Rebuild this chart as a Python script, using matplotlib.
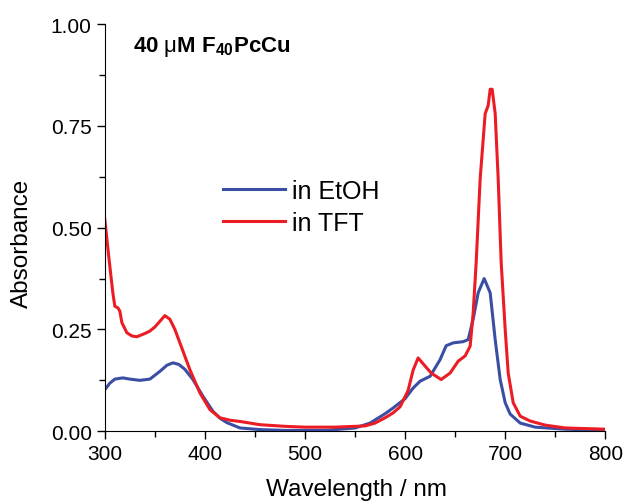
import matplotlib.pyplot as plt
from matplotlib.ticker import MultipleLocator

plt.rcParams['font.family'] = ['Liberation Sans', 'DejaVu Sans']
plt.rcParams['mathtext.fontset'] = 'custom'
plt.rcParams['mathtext.rm'] = 'Liberation Sans'
plt.rcParams['mathtext.bf'] = 'Liberation Sans:bold'
plt.rcParams['mathtext.it'] = 'Liberation Sans:italic'

# EtOH spectrum (blue)
wl_etoh = [300, 305, 310, 318, 325, 335, 345, 355, 362, 368, 374, 380, 388, 398,
           408, 415, 422, 435, 455, 480, 520, 550, 565, 580, 588, 600, 608, 615,
           625, 635, 641, 648, 658, 663, 668, 673, 679, 685, 690, 695, 700, 705,
           715, 730, 760, 800]
abs_etoh = [0.102, 0.118, 0.128, 0.131, 0.128, 0.125, 0.128, 0.147, 0.162, 0.168,
            0.164, 0.152, 0.127, 0.086, 0.049, 0.032, 0.021, 0.008, 0.004, 0.002,
            0.002, 0.008, 0.020, 0.043, 0.057, 0.080, 0.106, 0.123, 0.135, 0.176,
            0.210, 0.217, 0.220, 0.225, 0.275, 0.340, 0.375, 0.340, 0.225, 0.127,
            0.070, 0.042, 0.020, 0.010, 0.005, 0.002]

# TFT spectrum (red)
wl_tft = [300, 303, 305, 308, 310, 313, 315, 317, 322, 327, 332, 340, 345, 350,
          355, 360, 365, 370, 375, 385, 395, 405, 415, 425, 435, 455, 480, 500,
          530, 560, 570, 580, 588, 595, 603, 608, 613, 620, 626, 636, 645, 653,
          660, 665, 668, 671, 675, 680, 683, 685, 687, 690, 693, 696, 700, 703,
          708, 715, 725, 740, 760, 800]
abs_tft = [0.52, 0.45, 0.405, 0.34, 0.307, 0.303, 0.295, 0.267, 0.242, 0.234,
           0.232, 0.240, 0.246, 0.256, 0.270, 0.284, 0.275, 0.250, 0.217, 0.151,
           0.094, 0.053, 0.033, 0.027, 0.024, 0.016, 0.012, 0.010, 0.010, 0.013,
           0.020, 0.033, 0.045, 0.060, 0.100, 0.150, 0.180, 0.160, 0.143, 0.127,
           0.143, 0.172, 0.185, 0.209, 0.290, 0.414, 0.620, 0.780, 0.800, 0.840,
           0.840, 0.780, 0.620, 0.414, 0.250, 0.143, 0.070, 0.037, 0.025, 0.015,
           0.008, 0.005]

fig = plt.figure(figsize=(6.24, 5.02), dpi=100)
ax = fig.add_axes([0.168, 0.139, 0.802, 0.811])

ax.plot(wl_etoh, abs_etoh, color='#3a4ea3', lw=2.2, label='in EtOH')
ax.plot(wl_tft, abs_tft, color='#ec1c24', lw=2.2, label='in TFT')

ax.set_xlim(300, 800)
ax.set_ylim(0, 1.0)
ax.xaxis.set_major_locator(MultipleLocator(100))
ax.xaxis.set_minor_locator(MultipleLocator(50))
ax.yaxis.set_major_locator(MultipleLocator(0.25))
ax.yaxis.set_minor_locator(MultipleLocator(0.125))
ax.yaxis.set_major_formatter(plt.FormatStrFormatter('%.2f'))
ax.tick_params(which='major', direction='out', length=6, width=1, labelsize=15)
ax.tick_params(which='minor', direction='out', length=4, width=1)
for s in ['top', 'right']:
    ax.spines[s].set_visible(False)

ax.set_xlabel('Wavelength / nm', fontsize=17.5)
ax.set_ylabel('Absorbance', fontsize=17.5)
ax.xaxis.set_label_coords(0.502, -0.115)
ax.yaxis.set_label_coords(-0.144, 0.464)

ax.text(0.056, 0.975, r'$\mathbf{40\ }\mathrm{\mu}\mathbf{M\ F_{40}PcCu}$',
        transform=ax.transAxes, fontsize=16, va='top', ha='left')

ax.legend(loc='upper left', bbox_to_anchor=(0.236, 0.62), frameon=False,
          fontsize=18, handlelength=2.5, handletextpad=0.28, labelspacing=0.33,
          borderaxespad=0, borderpad=0)

fig.savefig('out.png', dpi=100)
